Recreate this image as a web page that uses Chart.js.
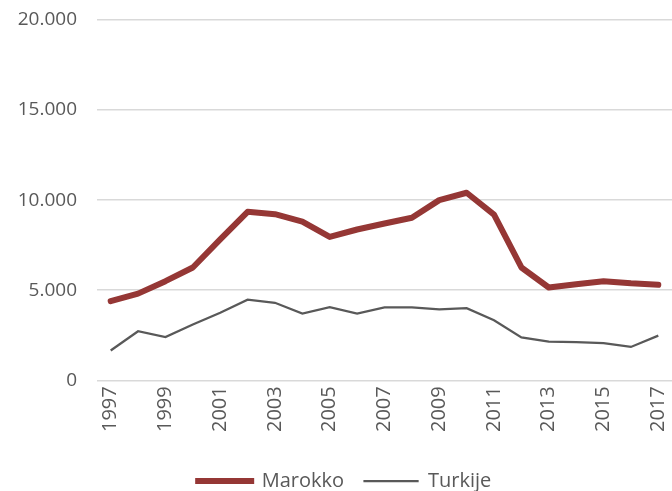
<!DOCTYPE html>
<html>
<head>
<meta charset="utf-8">
<script src="https://cdn.jsdelivr.net/npm/chart.js@4/dist/chart.umd.min.js"></script>
<style>
  html, body { margin: 0; padding: 0; background: #fff; }
  #wrap { width: 672px; height: 491px; }
</style>
</head>
<body>
<div id="wrap"><canvas id="chart" width="672" height="491"></canvas></div>
<script>
// jaren en waarden
const years = ["1997","1998","1999","2000","2001","2002","2003","2004","2005","2006","2007",
               "2008","2009","2010","2011","2012","2013","2014","2015","2016","2017"];
const marokko = [4390, 4810, 5500, 6260, 7820, 9350, 9220, 8810, 7960, 8370, 8700,
                 9020, 10000, 10410, 9200, 6260, 5150, 5330, 5500, 5380, 5300];
const turkije = [1650, 2720, 2400, 3100, 3750, 4470, 4300, 3700, 4060, 3700, 4050,
                 4050, 3930, 4000, 3330, 2380, 2150, 2120, 2060, 1850, 2480];
const yTicks = [0, 5000, 10000, 15000, 20000];

const labelColor = "#595959";
const fontFamily = "'Open Sans', 'Liberation Sans', sans-serif";

function fmt(v) {
  return v.toString().replace(/\B(?=(\d{3})+(?!\d))/g, ".");
}

const ctx = document.getElementById('chart').getContext('2d');
new Chart(ctx, {
  type: 'line',
  data: {
    labels: years,
    datasets: [
      {
        label: 'Marokko',
        data: marokko,
        borderColor: '#953735',
        backgroundColor: '#953735',
        borderWidth: 6,
        pointRadius: 0,
        tension: 0,
        borderCapStyle: 'round',
        borderJoinStyle: 'round'
      },
      {
        label: 'Turkije',
        data: turkije,
        borderColor: '#595959',
        backgroundColor: '#595959',
        borderWidth: 2.25,
        pointRadius: 0,
        tension: 0
      }
    ]
  },
  options: {
    responsive: false,
    animation: false,
    layout: { padding: { left: 17, right: 0, top: 20, bottom: -10 } },
    plugins: {
      tooltip: { enabled: false },
      legend: {
        position: 'bottom',
        labels: {
          color: labelColor,
          font: { size: 20, family: fontFamily },
          boxWidth: 54,
          boxHeight: 1,
          padding: 20,
          generateLabels(chart) {
            return chart.data.datasets.map((ds, i) => ({
              text: ds.label,
              fillStyle: ds.borderColor,
              strokeStyle: ds.borderColor,
              lineWidth: i === 0 ? 5 : 1.25,
              fontColor: labelColor,
              datasetIndex: i,
              hidden: false
            }));
          }
        }
      }
    },
    scales: {
      x: {
        offset: true,
        grid: { display: false, drawTicks: false },
        border: { display: false },
        afterFit(axis) { axis.paddingRight = 0; axis.paddingLeft = 0; axis.height += 13; },
        ticks: {
          color: labelColor,
          font: { size: 20, family: fontFamily },
          autoSkip: false,
          minRotation: 90,
          maxRotation: 90,
          padding: 6,
          callback: function (v, i) { return i % 2 === 0 ? years[i] : ''; }
        }
      },
      y: {
        min: 0,
        max: 20000,
        afterBuildTicks(axis) { axis.ticks = yTicks.map(v => ({ value: v })); },
        afterFit(axis) { axis.paddingTop = 0; axis.paddingBottom = 0; axis.width = 80; },
        grid: { color: '#d9d9d9', lineWidth: 1.5, drawTicks: false },
        border: { display: false },
        ticks: {
          color: labelColor,
          font: { size: 19, family: fontFamily },
          padding: 20,
          callback: v => fmt(v)
        }
      }
    }
  }
});
</script>
</body>
</html>
